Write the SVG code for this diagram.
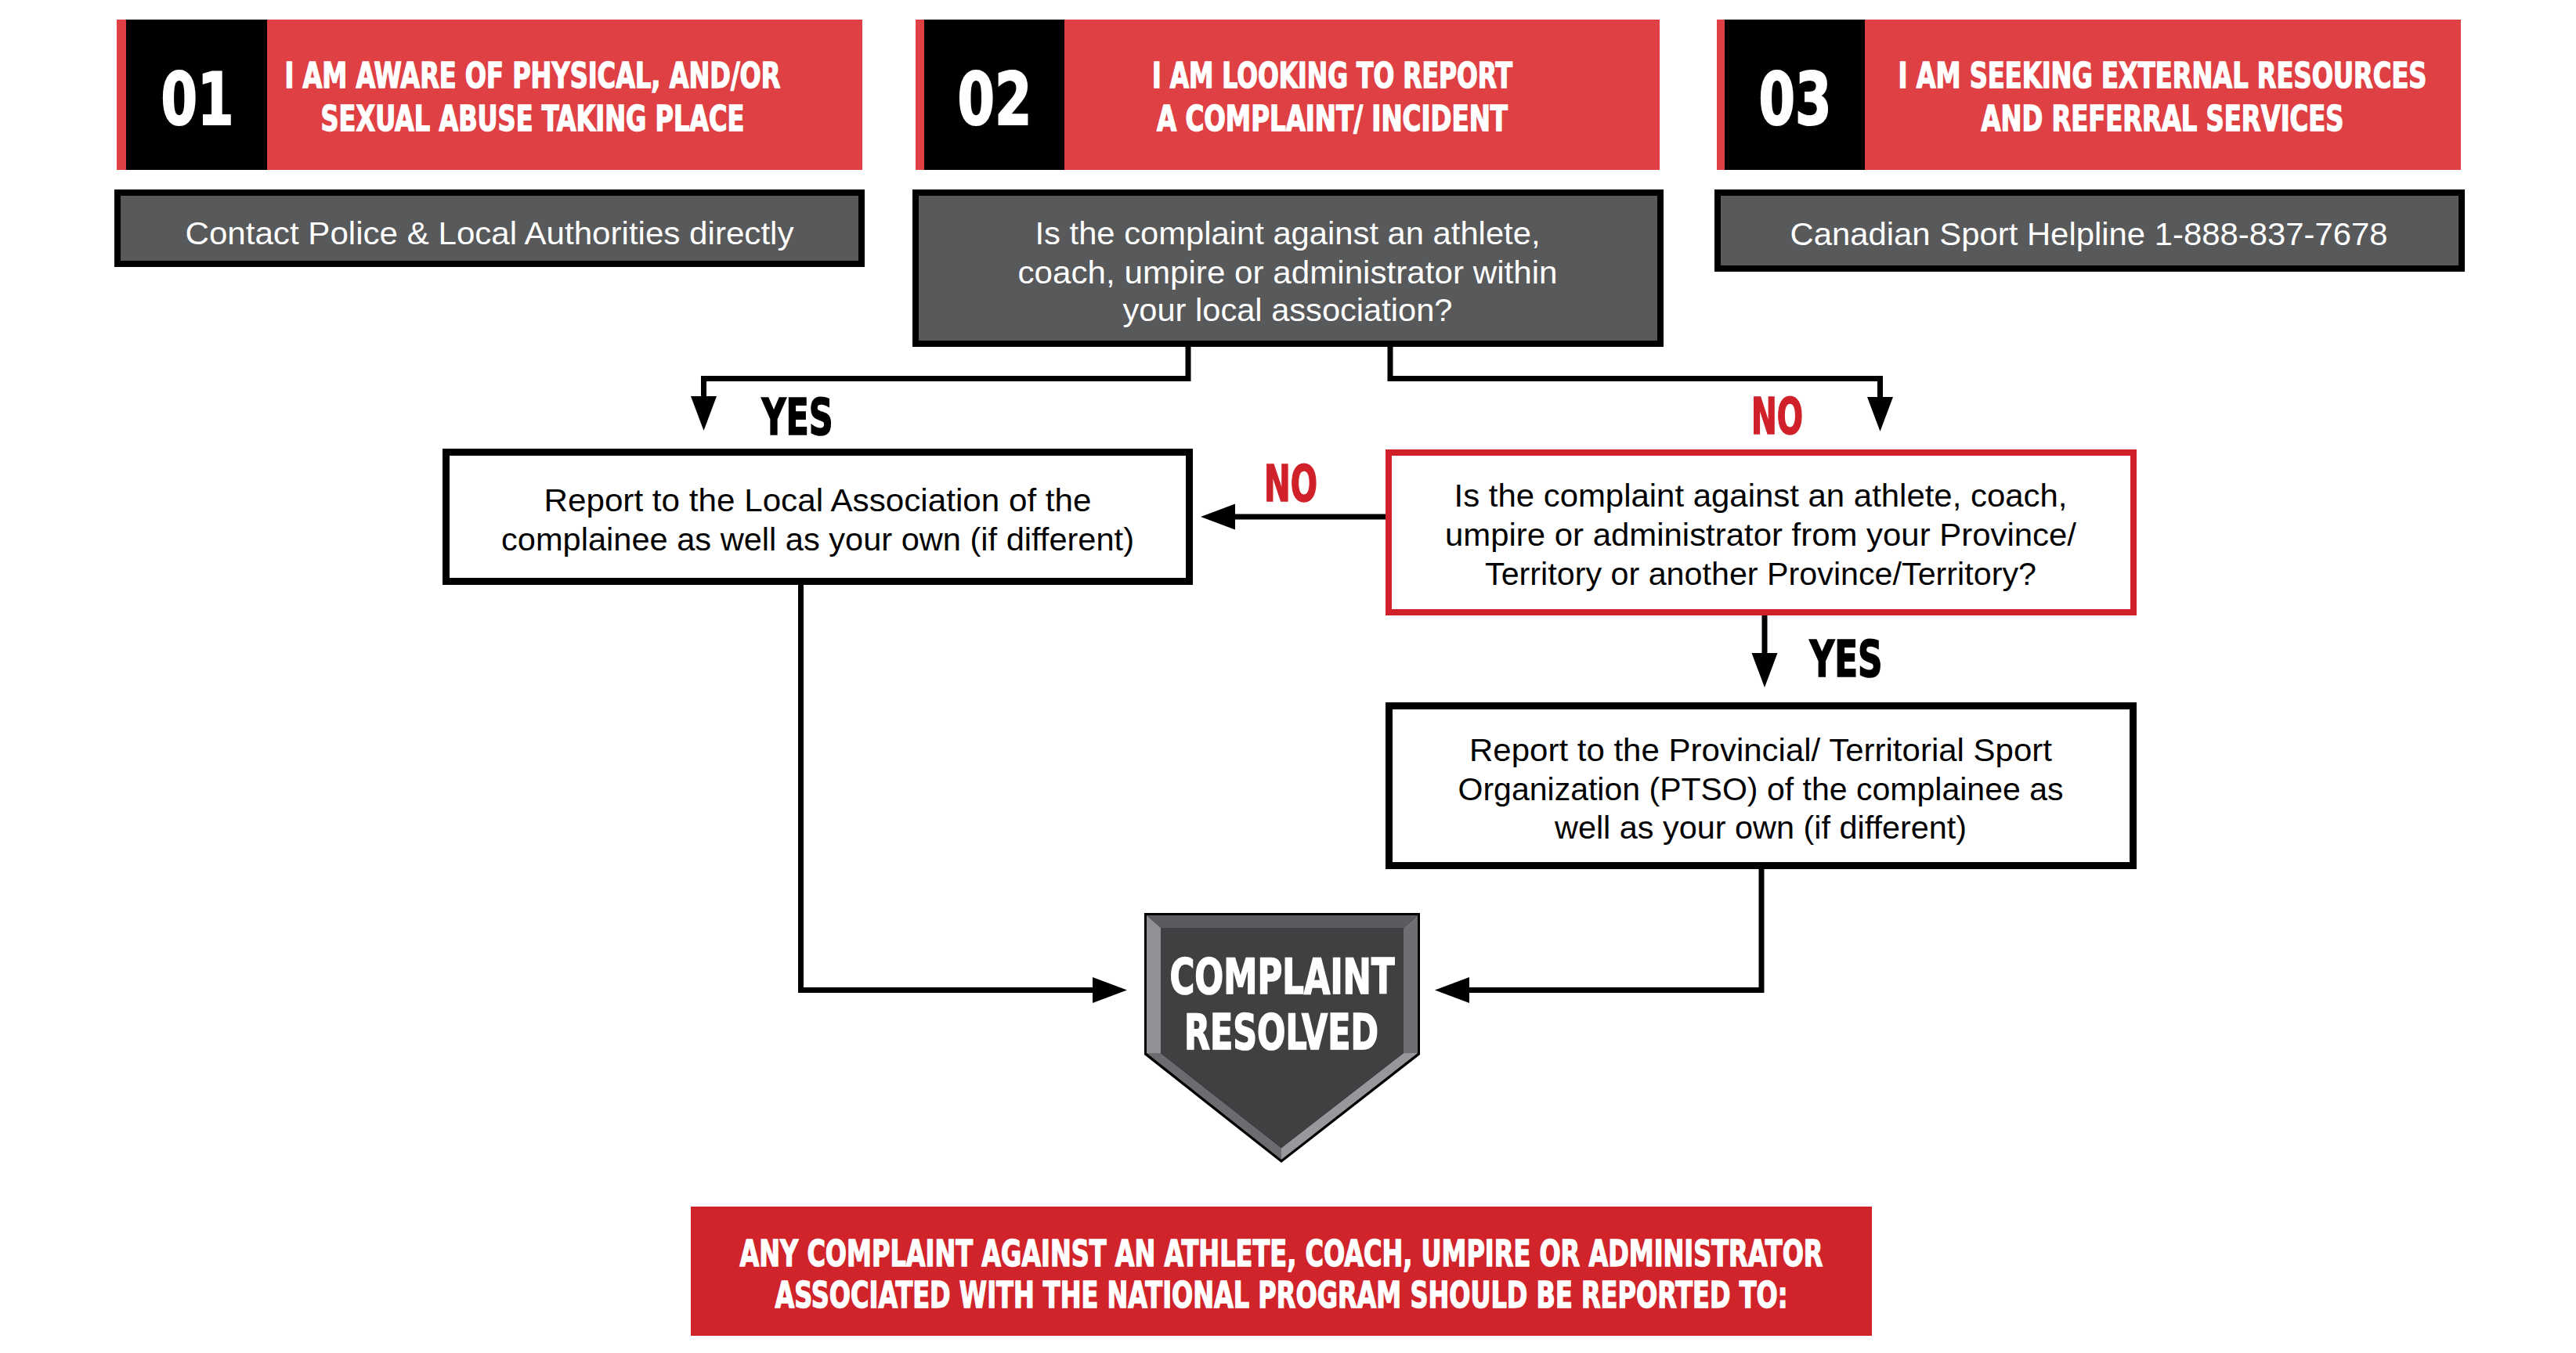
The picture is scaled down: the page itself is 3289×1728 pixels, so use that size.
<svg xmlns="http://www.w3.org/2000/svg" width="3289" height="1728" viewBox="0 0 3289 1728">
<style>
.hdr{fill:#df4044}
.blk{fill:#000}
.num{font-family:"DejaVu Sans Condensed","DejaVu Sans",sans-serif;font-weight:bold;font-size:93px;fill:#fff;stroke:#fff;stroke-width:2;text-anchor:middle}
.ht{font-family:"DejaVu Sans Condensed","DejaVu Sans",sans-serif;font-weight:bold;font-size:44px;fill:#fff;stroke:#fff;stroke-width:1.4;text-anchor:middle}
.gbox{fill:#58595b;stroke:#000;stroke-width:8}
.wbox{fill:#fff;stroke:#000;stroke-width:9}
.rbox{fill:#fff;stroke:#d0212a;stroke-width:8}
.gt{font-family:"Liberation Sans",Arial,sans-serif;font-size:40px;fill:#fff;text-anchor:middle}
.bt{font-family:"Liberation Sans",Arial,sans-serif;font-size:40px;fill:#000;text-anchor:middle}
.lbl{font-family:"DejaVu Sans Condensed","DejaVu Sans",sans-serif;font-weight:bold;font-size:64px;stroke-width:1.6;text-anchor:middle}
.conn{fill:none;stroke:#000;stroke-width:7}
.ban{font-family:"DejaVu Sans Condensed","DejaVu Sans",sans-serif;font-weight:bold;font-size:47px;fill:#fff;stroke:#fff;stroke-width:1.4;text-anchor:middle}
</style>
<defs>
<marker id="ah" markerUnits="userSpaceOnUse" markerWidth="46" markerHeight="34" refX="0" refY="16.5" orient="auto" viewBox="0 0 46 34">
<path d="M0,0 L44,16.5 L0,33 z" fill="#000"/>
</marker>
</defs>
<rect width="3289" height="1728" fill="#fff"/>

<g id="header01">
<rect class="hdr" x="149" y="25" width="952" height="192"/>
<rect class="blk" x="161" y="25" width="180" height="192"/>
<text class="num" x="252" y="159" textLength="93" lengthAdjust="spacingAndGlyphs">01</text>
<text class="ht" x="680" y="112" textLength="633" lengthAdjust="spacingAndGlyphs">I AM AWARE OF PHYSICAL, AND/OR</text>
<text class="ht" x="680" y="167" textLength="541" lengthAdjust="spacingAndGlyphs">SEXUAL ABUSE TAKING PLACE</text>
</g>

<g id="header02">
<rect class="hdr" x="1169" y="25" width="950" height="192"/>
<rect class="blk" x="1180" y="25" width="179" height="192"/>
<text class="num" x="1270" y="159" textLength="95" lengthAdjust="spacingAndGlyphs">02</text>
<text class="ht" x="1701" y="112" textLength="460" lengthAdjust="spacingAndGlyphs">I AM LOOKING TO REPORT</text>
<text class="ht" x="1701" y="167" textLength="448" lengthAdjust="spacingAndGlyphs">A COMPLAINT/ INCIDENT</text>
</g>

<g id="header03">
<rect class="hdr" x="2192" y="25" width="950" height="192"/>
<rect class="blk" x="2202" y="25" width="179" height="192"/>
<text class="num" x="2292" y="159" textLength="93" lengthAdjust="spacingAndGlyphs">03</text>
<text class="ht" x="2761" y="112" textLength="675" lengthAdjust="spacingAndGlyphs">I AM SEEKING EXTERNAL RESOURCES</text>
<text class="ht" x="2761" y="167" textLength="463" lengthAdjust="spacingAndGlyphs">AND REFERRAL SERVICES</text>
</g>

<g id="police">
<rect class="gbox" x="150" y="246" width="950" height="91"/>
<text class="gt" x="625" y="312" textLength="777" lengthAdjust="spacingAndGlyphs">Contact Police &amp; Local Authorities directly</text>
</g>

<g id="question1">
<rect class="gbox" x="1169" y="246" width="951" height="193"/>
<text class="gt" x="1644" y="312" textLength="645" lengthAdjust="spacingAndGlyphs">Is the complaint against an athlete,</text>
<text class="gt" x="1644" y="362" textLength="689" lengthAdjust="spacingAndGlyphs">coach, umpire or administrator within</text>
<text class="gt" x="1644" y="410" textLength="421" lengthAdjust="spacingAndGlyphs">your local association?</text>
</g>

<g id="helpline">
<rect class="gbox" x="2193" y="246" width="950" height="97"/>
<text class="gt" x="2667" y="313" textLength="763" lengthAdjust="spacingAndGlyphs">Canadian Sport Helpline 1-888-837-7678</text>
</g>

<g id="local">
<rect class="wbox" x="569.5" y="577.5" width="949" height="165"/>
<text class="bt" x="1044" y="653" textLength="699" lengthAdjust="spacingAndGlyphs">Report to the Local Association of the</text>
<text class="bt" x="1044" y="703" textLength="808" lengthAdjust="spacingAndGlyphs">complainee as well as your own (if different)</text>
</g>

<g id="question2">
<rect class="rbox" x="1773" y="578" width="951" height="204"/>
<text class="bt" x="2248" y="647" textLength="783" lengthAdjust="spacingAndGlyphs">Is the complaint against an athlete, coach,</text>
<text class="bt" x="2248" y="697" textLength="806" lengthAdjust="spacingAndGlyphs">umpire or administrator from your Province/</text>
<text class="bt" x="2248" y="747" textLength="704" lengthAdjust="spacingAndGlyphs">Territory or another Province/Territory?</text>
</g>

<g id="ptso">
<rect class="wbox" x="1773.5" y="901.5" width="950" height="204"/>
<text class="bt" x="2248" y="972" textLength="744" lengthAdjust="spacingAndGlyphs">Report to the Provincial/ Territorial Sport</text>
<text class="bt" x="2248" y="1022" textLength="773" lengthAdjust="spacingAndGlyphs">Organization (PTSO) of the complainee as</text>
<text class="bt" x="2248" y="1071" textLength="526" lengthAdjust="spacingAndGlyphs">well as your own (if different)</text>
</g>

<g id="resolved">
<polygon points="1461,1166 1813,1166 1813,1347 1636,1485 1461,1347" fill="#000"/>
<polygon points="1464,1169 1810,1169 1792,1185 1482,1185" fill="#5a5b5e"/>
<polygon points="1464,1169 1482,1185 1482,1345 1464,1345" fill="#909195"/>
<polygon points="1810,1169 1810,1345 1792,1345 1792,1185" fill="#6e6f72"/>
<polygon points="1464,1345 1482,1345 1636,1466 1636,1481" fill="#6b6c6f"/>
<polygon points="1810,1345 1792,1345 1636,1466 1636,1481" fill="#97989b"/>
<polygon points="1482,1185 1792,1185 1792,1345 1636,1466 1482,1345" fill="#404042"/>
<text class="lbl" x="1637" y="1269" fill="#fff" stroke="#fff" style="font-size:63px" textLength="287" lengthAdjust="spacingAndGlyphs">COMPLAINT</text>
<text class="lbl" x="1636" y="1340" fill="#fff" stroke="#fff" style="font-size:63px" textLength="248" lengthAdjust="spacingAndGlyphs">RESOLVED</text>
</g>

<g id="banner">
<rect x="882" y="1541" width="1508" height="165" fill="#d0232a"/>
<text class="ban" x="1636" y="1617" textLength="1383" lengthAdjust="spacingAndGlyphs">ANY COMPLAINT AGAINST AN ATHLETE, COACH, UMPIRE OR ADMINISTRATOR</text>
<text class="ban" x="1636" y="1670" textLength="1293" lengthAdjust="spacingAndGlyphs">ASSOCIATED WITH THE NATIONAL PROGRAM SHOULD BE REPORTED TO:</text>
</g>

<g id="connectors">
<path class="conn" d="M1517,443 V483.5 H898.5 V506" marker-end="url(#ah)"/>
<path class="conn" d="M1775,443 V483.5 H2400.5 V507" marker-end="url(#ah)"/>
<path class="conn" d="M1769,660 H1577" marker-end="url(#ah)"/>
<path class="conn" d="M2253,786 V834" marker-end="url(#ah)"/>
<path class="conn" d="M1022.5,747 V1264.5 H1395" marker-end="url(#ah)"/>
<path class="conn" d="M2249,1110 V1264.5 H1876" marker-end="url(#ah)"/>
</g>

<g id="labels">
<text class="lbl" x="1018" y="555" fill="#000" stroke="#000" textLength="91" lengthAdjust="spacingAndGlyphs">YES</text>
<text class="lbl" x="2269" y="554" fill="#d0212a" stroke="#d0212a" textLength="66" lengthAdjust="spacingAndGlyphs">NO</text>
<text class="lbl" x="1648" y="640" fill="#d0212a" stroke="#d0212a" textLength="68" lengthAdjust="spacingAndGlyphs">NO</text>
<text class="lbl" x="2357" y="864" fill="#000" stroke="#000" textLength="93" lengthAdjust="spacingAndGlyphs">YES</text>
</g>
</svg>
